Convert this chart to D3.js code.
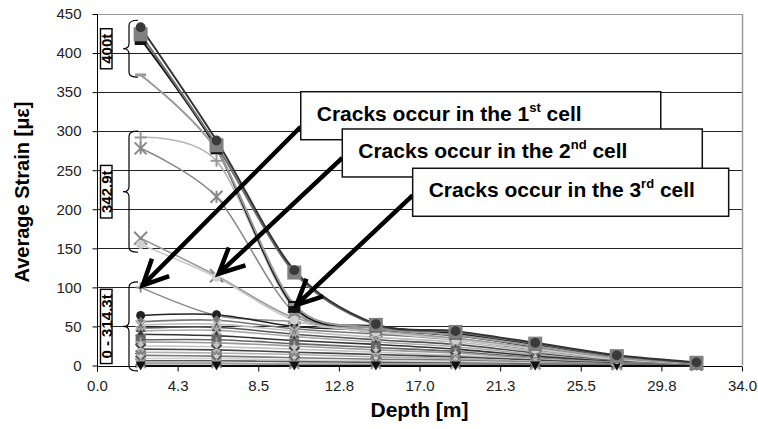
<!DOCTYPE html>
<html>
<head>
<meta charset="utf-8">
<script src="https://cdn.jsdelivr.net/npm/d3@7"></script>
<style>
  html, body { margin: 0; padding: 0; background: #fff; }
  svg { display: block; }
  .tick-label { font-family: "Liberation Sans", Arial, sans-serif; font-size: 15px; fill: #222; }
  .title { font-family: "Liberation Sans", Arial, sans-serif; font-weight: bold; fill: #000; }
</style>
</head>
<body>
<svg id="chart" width="758" height="429"></svg>
<script>
// Measurement depths along the pile [m]
const depths = [2.3, 6.3, 10.4, 14.7, 18.9, 23.1, 27.4, 31.6];

// Average strain [µε] per load step, 400t group
const strain400t = [
  [433, 288, 122, 53, 44, 29, 13, 4],
  [424, 282, 119, 52, 43, 28, 12, 3.5],
  [418, 278, 75, 50, 41, 27, 11, 3],
  [372, 276, 78, 48, 39, 25, 10, 3]
];

// Average strain [µε], 342.9t group
const strain343t = [
  [292, 262, 72, 50, 41, 26, 11, 3],
  [278, 216, 68, 48, 39, 25, 10, 3],
  [163, 115, 61, 45, 35, 22, 9, 2],
  [155, 113, 58, 43, 33, 21, 8, 2]
];

// Average strain [µε], 0 - 314.3t group
const strainLow = [
  [100, 64, 56, 42, 34, 22, 9, 2],
  [64, 65, 50, 45, 38, 24, 10, 3],
  [56, 58, 47, 40, 33, 20, 8, 2],
  [52, 53, 44, 36, 30, 18, 7, 2],
  [48, 49, 40, 33, 27, 16, 6, 2],
  [44, 45, 37, 30, 24, 14, 5, 1.5],
  [40, 38, 32, 27, 21, 12, 5, 1.5],
  [33, 33, 28, 23, 18, 10, 4, 1],
  [30, 29, 25, 20, 16, 9, 4, 1],
  [25, 24, 21, 17, 13, 8, 3, 1],
  [21, 20, 17, 14, 11, 7, 3, 1],
  [17, 16, 14, 11, 9, 5, 2, 0.5],
  [13, 12, 10, 8, 7, 4, 2, 0.5],
  [9, 9, 7, 6, 5, 3, 1, 0.3],
  [6, 6, 5, 4, 3, 2, 1, 0.2],
  [3, 3, 2, 2, 2, 1, 0.5, 0],
  [0, 0, 0, 0, 0, 0, 0, 0]
];

// Axis ticks
const yTicks = [0, 50, 100, 150, 200, 250, 300, 350, 400, 450];
const xTicks = [0, 4.25, 8.5, 12.75, 17, 21.25, 25.5, 29.75, 34];
const xTickLabels = ["0.0", "4.3", "8.5", "12.8", "17.0", "21.3", "25.5", "29.8", "34.0"];

// Load groups bracketed on the left: [top strain, bottom strain, label]
const groupTops = [442, 300, 107];
const groupBottoms = [369, 145, -7];
const groupLabels = ["400t", "342.9t", "0 - 314.3t"];

// Crack callouts: ordinal, depth & strain of the pointed point
const crackOrdinals = [["1", "st"], ["2", "nd"], ["3", "rd"]];
const crackDepths = [2.3, 6.3, 10.4];
const crackStrains = [100, 115, 75];

// ---- styles (400t drawn last so its markers sit on top; order: S3, S4, S2, S1) ----
const order400 = [2, 3, 1, 0];
const style400 = [
  { stroke: "#333", marker: "circle", fill: "#3a3a3a", size: 11 },
  { stroke: "#6e6e6e", marker: "square", fill: "#808080", size: 14 },
  { stroke: "#111", marker: "square", fill: "#111", size: 12 },
  { stroke: "#9a9a9a", marker: "dash", fill: "#9a9a9a", size: 11 }
];
const style343 = [
  { stroke: "#b5b5b5", marker: "plus", fill: "#999", size: 12 },
  { stroke: "#8a8a8a", marker: "asterisk", fill: "#888", size: 12 },
  { stroke: "#9a9a9a", marker: "x", fill: "#888", size: 13 },
  { stroke: "#c8c8c8", marker: "circle", fill: "#d0d0d0", size: 10 }
];
const lowGreys = ["#8c8c8c", "#222", "#777", "#bbb", "#555", "#aaa", "#333", "#666",
                  "#999", "#c4c4c4", "#444", "#b0b0b0", "#7a7a7a", "#d0d0d0", "#5a5a5a", "#a0a0a0", "#111"];
const lowMarkers = ["plus", "circle", "diamond", "x", "triangle", "asterisk", "triangle", "square",
                    "plus", "diamond", "x", "circle", "asterisk", "diamond", "x", "asterisk", "triangleDown"];

const svg = d3.select("#chart");
const x = d3.scaleLinear().domain([0, 34]).range([97, 742]);
const y = d3.scaleLinear().domain([0, 450]).range([365.5, 14]);

// ---- gridlines & frame ----
svg.append("g").selectAll("line").data(yTicks.filter(d => d > 0)).join("line")
  .attr("x1", x(0)).attr("x2", x(34))
  .attr("y1", d => Math.round(y(d)) + 0.5).attr("y2", d => Math.round(y(d)) + 0.5)
  .attr("stroke", d => d === 450 ? "#999" : "#222").attr("stroke-width", 1);
svg.append("line")
  .attr("x1", Math.round(x(34)) + 0.5).attr("x2", Math.round(x(34)) + 0.5)
  .attr("y1", y(450)).attr("y2", y(0)).attr("stroke", "#999").attr("stroke-width", 1.5);

// ---- axes ----
const yAxis = svg.append("g").attr("transform", `translate(${Math.round(x(0)) + 0.5},0)`)
  .call(d3.axisLeft(y).tickValues(yTicks).tickSize(5).tickPadding(11).tickFormat(d3.format("d")));
const xAxis = svg.append("g").attr("transform", `translate(0,${Math.round(y(0)) + 0.5})`)
  .call(d3.axisBottom(x).tickValues(xTicks).tickSize(5).tickPadding(9)
    .tickFormat((d, i) => xTickLabels[i]));
[yAxis, xAxis].forEach(a => {
  a.select(".domain").attr("stroke", "#000").attr("stroke-width", 1);
  a.selectAll(".tick line").attr("stroke", "#000");
  a.selectAll(".tick text").attr("class", "tick-label").attr("fill", "#222");
});
xAxis.select(".domain").attr("d", `M${x(0)},0H${x(34)}`);
yAxis.select(".domain").attr("d", `M0,${y(0) + 6}V${y(450)}`);

// ---- axis titles ----
svg.append("text").attr("class", "title")
  .attr("x", (x(0) + x(34)) / 2).attr("y", 417).attr("text-anchor", "middle")
  .attr("font-size", 21).text("Depth [m]");
svg.append("text").attr("class", "title")
  .attr("transform", `translate(29,192) rotate(-90)`).attr("text-anchor", "middle")
  .attr("font-size", 20).text("Average Strain [με]");

// ---- series ----
const line = d3.line().x((d, i) => x(depths[i])).y(d => y(d)).curve(d3.curveCardinal.tension(0.1));

function markerPath(kind, s) {
  const h = s / 2;
  switch (kind) {
    case "circle": return d3.symbol(d3.symbolCircle, Math.PI * h * h * 0.8)();
    case "square": return `M${-h},${-h}H${h}V${h}H${-h}Z`;
    case "diamond": return `M0,${-h}L${h},0L0,${h}L${-h},0Z`;
    case "triangle": return `M0,${-h}L${h},${h * 0.8}L${-h},${h * 0.8}Z`;
    case "triangleDown": return `M0,${h}L${h},${-h * 0.8}L${-h},${-h * 0.8}Z`;
    case "dash": return `M${-h},-1.5H${h}V1.5H${-h}Z`;
    case "plus": return `M${-h},0H${h}M0,${-h}V${h}`;
    case "x": return `M${-h},${-h}L${h},${h}M${-h},${h}L${h},${-h}`;
    case "asterisk": return `M${-h},${-h}L${h},${h}M${-h},${h}L${h},${-h}M0,${-h}V${h}`;
  }
}
const strokeOnly = k => k === "plus" || k === "x" || k === "asterisk";

const allSeries = [];
strainLow.forEach((v, i) => allSeries.push({ values: v, stroke: lowGreys[i], marker: lowMarkers[i], fill: lowGreys[i], size: 10, width: 1.6 }));
strain343t.forEach((v, i) => allSeries.push({ values: v, ...style343[i], width: 1.6 }));
order400.forEach(i => allSeries.push({ values: strain400t[i], ...style400[i], width: 2 }));

const gSeries = svg.append("g");
allSeries.forEach(s => {
  gSeries.append("path").attr("d", line(s.values)).attr("fill", "none")
    .attr("stroke", s.stroke).attr("stroke-width", s.width);
});
allSeries.forEach(s => {
  gSeries.append("g").selectAll("path").data(s.values).join("path")
    .attr("transform", (d, i) => `translate(${x(depths[i])},${y(d)})`)
    .attr("d", markerPath(s.marker, s.size))
    .attr("fill", strokeOnly(s.marker) ? "none" : s.fill)
    .attr("stroke", strokeOnly(s.marker) ? s.fill : "none")
    .attr("stroke-width", 2);
});

// ---- load group braces with boxed labels ----
const gBrace = svg.append("g");
groupLabels.forEach((lab, i) => {
  const t = y(groupTops[i]), b = y(groupBottoms[i]), m = (t + b) / 2;
  const xr = 138, xv = 129, xt = 123, r = 5;
  gBrace.append("path")
    .attr("d", `M${xr},${t}Q${xv},${t} ${xv},${t + r}V${m - r}Q${xv},${m} ${xt},${m}` +
               `Q${xv},${m} ${xv},${m + r}V${b - r}Q${xv},${b} ${xr},${b}`)
    .attr("fill", "none").attr("stroke", "#000").attr("stroke-width", 1.2);
  const txt = gBrace.append("text").attr("class", "title").attr("font-size", 15)
    .attr("transform", `translate(${111.5},${m}) rotate(-90)`).attr("text-anchor", "middle")
    .text(lab);
  const w = txt.node().getComputedTextLength();
  gBrace.insert("rect", "text")
    .attr("x", 100.5).attr("y", m - w / 2 - 5).attr("width", 11.5).attr("height", w + 10)
    .attr("fill", "#fff").attr("stroke", "#000").attr("stroke-width", 1.4);
});

// ---- crack callouts ----
const boxLeft = [10.74, 12.93, 16.64];   // depth of box left edge
const boxTop = [350.5, 302.8, 252.5];    // strain of box top edge
const boxWidth = [360, 360, 316];
const boxH = 48;
const exitOffset = [35, 29, 27];
const gCall = svg.append("g");
crackOrdinals.forEach((o, i) => {
  const bx = x(boxLeft[i]), by = y(boxTop[i]);
  const sx = bx, sy = by + exitOffset[i];
  const tx = x(crackDepths[i]), ty = y(crackStrains[i]);
  const ang = Math.atan2(ty - sy, tx - sx);
  const ex = tx - 3 * Math.cos(ang), ey = ty - 3 * Math.sin(ang);
  const arm = 28, spread = 0.45;
  const a1x = ex - arm * Math.cos(ang - spread), a1y = ey - arm * Math.sin(ang - spread);
  const a2x = ex - arm * Math.cos(ang + spread), a2y = ey - arm * Math.sin(ang + spread);
  gCall.append("path")
    .attr("d", `M${sx},${sy}L${ex},${ey}M${a1x},${a1y}L${ex},${ey}L${a2x},${a2y}`)
    .attr("fill", "none").attr("stroke", "#000").attr("stroke-width", 4.5)
    .attr("stroke-linejoin", "miter").attr("stroke-linecap", "butt");
});
crackOrdinals.forEach((o, i) => {
  const bx = x(boxLeft[i]), by = y(boxTop[i]);
  gCall.append("rect").attr("x", bx).attr("y", by).attr("width", boxWidth[i]).attr("height", boxH)
    .attr("fill", "#fff").attr("stroke", "#111").attr("stroke-width", 1.5);
  const t = gCall.append("text").attr("class", "title").attr("font-size", 21)
    .attr("x", bx + 16).attr("y", by + 29);
  t.append("tspan").text(`Cracks occur in the ${o[0]}`);
  t.append("tspan").attr("font-size", 13).attr("dy", -9).text(o[1]);
  t.append("tspan").attr("dy", 9).text(" cell");
});
</script>
</body>
</html>
